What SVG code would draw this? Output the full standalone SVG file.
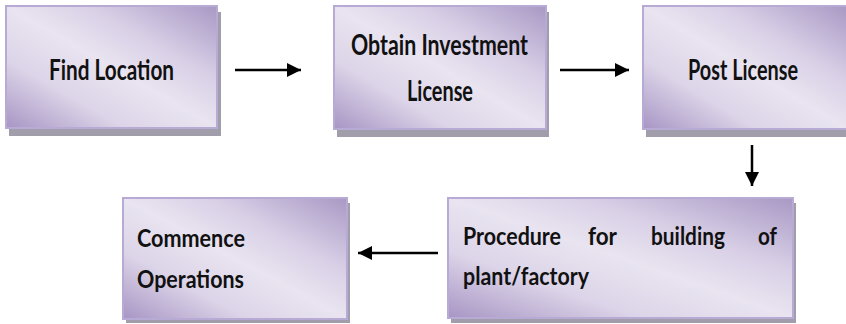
<svg xmlns="http://www.w3.org/2000/svg" width="846" height="324" viewBox="0 0 846 324">
<defs>
<linearGradient id="g" x1="1" y1="0" x2="0" y2="1">
<stop offset="0" stop-color="#a898c4"/>
<stop offset="0.3" stop-color="#d8cfe6"/>
<stop offset="0.5" stop-color="#e9e4f0"/>
<stop offset="0.72" stop-color="#dcd4e8"/>
<stop offset="1" stop-color="#a795c4"/>
</linearGradient>
<marker id="ah" markerWidth="14" markerHeight="14" viewBox="0 0 14 14" refX="14" refY="7" orient="auto" markerUnits="userSpaceOnUse">
<path d="M0,0 L14,7 L0,14 Z" fill="#000"/>
</marker>
</defs>
<style>
.sh{fill:#a29daa}
.bx{fill:url(#g);stroke:#b7aad4;stroke-width:2}
.t{font-family:Lato,"Open Sans","Liberation Sans",sans-serif;font-weight:bold;fill:#111;font-size:29px}
.t2{font-size:25px}
.c{fill:none;stroke:#000;stroke-width:2.5;marker-end:url(#ah)}
</style>
<rect width="846" height="324" fill="#fff"/>
<g id="n1">
<rect class="sh" x="9" y="12" width="212" height="124"/>
<rect class="bx" x="6" y="6" width="211" height="122"/>
<text class="t" x="49" y="80" textLength="125" lengthAdjust="spacingAndGlyphs">Find Location</text>
</g>
<g id="n2">
<rect class="sh" x="337" y="12" width="212" height="125"/>
<rect class="bx" x="334" y="6" width="212" height="123"/>
<text class="t" x="351" y="55" textLength="177" lengthAdjust="spacingAndGlyphs">Obtain Investment</text>
<text class="t" x="407" y="101" textLength="66" lengthAdjust="spacingAndGlyphs">License</text>
</g>
<g id="n3">
<rect class="sh" x="646" y="12" width="200" height="125"/>
<rect class="bx" x="643" y="6" width="204" height="123"/>
<text class="t" x="688" y="80" textLength="110" lengthAdjust="spacingAndGlyphs">Post License</text>
</g>
<g id="n4">
<rect class="sh" x="126" y="203" width="224" height="120"/>
<rect class="bx" x="123" y="198" width="224" height="121"/>
<text class="t t2" x="137" y="247" textLength="108" lengthAdjust="spacingAndGlyphs">Commence</text>
<text class="t t2" x="137" y="288" textLength="107" lengthAdjust="spacingAndGlyphs">Operations</text>
</g>
<g id="n5">
<rect class="sh" x="451" y="203" width="345" height="120"/>
<rect class="bx" x="448" y="198" width="345" height="120"/>
<text class="t t2" x="463" y="245" textLength="98" lengthAdjust="spacingAndGlyphs">Procedure</text>
<text class="t t2" x="588" y="245" textLength="29" lengthAdjust="spacingAndGlyphs">for</text>
<text class="t t2" x="651" y="245" textLength="74" lengthAdjust="spacingAndGlyphs">building</text>
<text class="t t2" x="758" y="245" textLength="19" lengthAdjust="spacingAndGlyphs">of</text>
<text class="t t2" x="463" y="285" textLength="126" lengthAdjust="spacingAndGlyphs">plant/factory</text>
</g>
<g id="connectors">
<line class="c" x1="235" y1="70" x2="301" y2="70"/>
<line class="c" x1="560" y1="70" x2="629" y2="70"/>
<line class="c" x1="752" y1="145" x2="752" y2="186"/>
<line class="c" x1="438" y1="253" x2="358" y2="253"/>
</g>
</svg>
